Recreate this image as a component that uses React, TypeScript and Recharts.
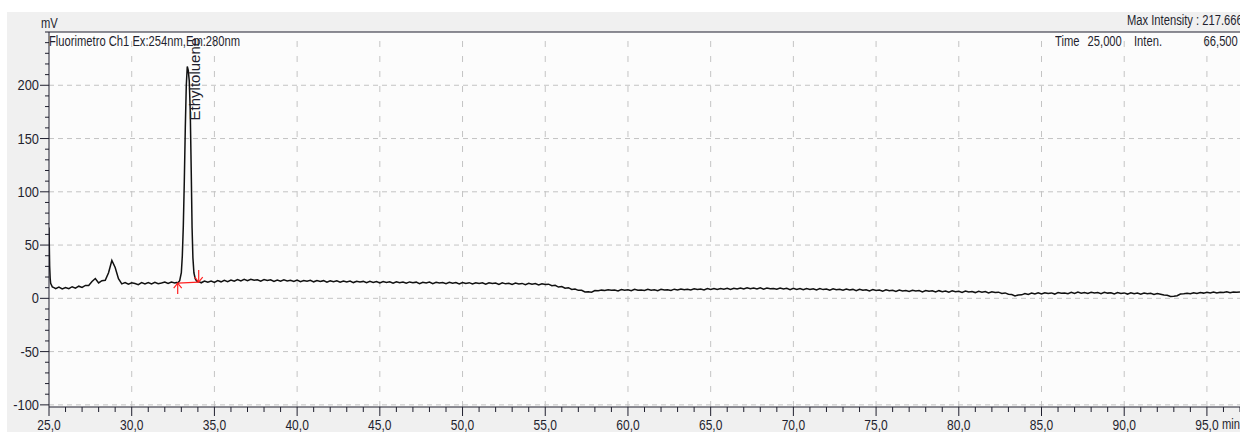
import React from 'react';
import { LineChart, Line, XAxis, YAxis, CartesianGrid, ReferenceLine, ReferenceDot } from 'recharts';

const FONT = "'Liberation Sans', Arial, sans-serif";
const INK = '#1f1f2e';
const GRID = '#c4c4c4';

// detector trace, sampled every 0.2 min from 25.0 min (mV)
const SAMPLE_START = 25.0;
const SAMPLE_STEP = 0.2;
const sampledMv = [
  66.5, 10.5, 9.1, 10.6, 8.8, 10.2, 9.0, 10.9, 9.6, 11.4,
  10.2, 12.1, 12.0, 15.8, 18.6, 14.5, 16.6, 17.0, 24.0, 35.5,
  29.0, 18.5, 13.6, 14.8, 13.2, 14.6, 13.9, 12.9, 14.7, 13.5,
  14.9, 13.6, 15.0, 13.8, 14.4, 15.3, 13.9, 15.2, 14.4, 14.6,
  40.0, 150.0, 210.0, 110.0, 20.0, 15.6, 14.6, 16.3, 15.1, 16.2,
  14.9, 16.6, 15.5, 16.9, 15.7, 17.2, 16.0, 17.6, 16.4, 17.8,
  16.6, 17.9, 16.9, 17.5, 16.2, 17.6, 16.7, 17.4, 15.9, 17.2,
  16.0, 17.3, 16.3, 16.9, 15.8, 17.1, 15.7, 16.8, 16.1, 16.9,
  15.5, 16.7, 15.9, 16.6, 15.2, 16.5, 15.6, 16.4, 15.1, 16.3,
  15.4, 16.2, 14.8, 16.0, 15.3, 15.9, 14.6, 15.9, 15.0, 15.8,
  14.5, 15.7, 14.9, 15.5, 14.3, 15.6, 14.7, 15.3, 14.1, 15.4,
  14.6, 15.2, 13.8, 15.1, 14.5, 15.2, 13.7, 15.0, 14.3, 14.8,
  13.7, 15.0, 14.1, 14.8, 13.5, 14.9, 14.0, 14.7, 13.4, 14.6,
  13.9, 14.5, 13.2, 14.6, 13.9, 14.4, 13.1, 14.5, 13.6, 14.2,
  13.0, 14.3, 13.5, 14.0, 12.8, 14.1, 13.2, 13.8, 12.6, 13.7,
  12.9, 13.3, 11.8, 12.2, 10.6, 11.1, 9.5, 10.0, 8.4, 8.8,
  7.5, 7.6, 6.0, 6.2, 5.8, 7.3, 7.1, 7.7, 7.3, 8.0,
  7.5, 7.9, 7.0, 8.3, 7.6, 8.0, 7.1, 8.4, 7.5, 7.9,
  7.3, 8.4, 7.6, 8.1, 7.2, 8.5, 7.8, 8.0, 7.4, 8.6,
  7.9, 8.8, 8.0, 8.6, 7.8, 9.0, 8.2, 8.7, 7.9, 9.1,
  8.4, 9.3, 8.3, 9.2, 8.6, 9.5, 8.4, 9.4, 8.8, 9.6,
  8.7, 9.9, 9.0, 9.7, 8.8, 9.8, 8.6, 9.6, 9.0, 9.3,
  8.5, 9.6, 8.8, 9.4, 8.2, 9.5, 8.4, 9.2, 8.0, 9.1,
  8.3, 9.0, 7.9, 9.1, 8.2, 8.7, 7.6, 8.9, 8.0, 8.5,
  7.6, 8.7, 7.9, 8.4, 7.2, 8.5, 7.6, 8.1, 7.0, 8.2,
  7.3, 7.9, 6.8, 8.0, 7.2, 7.6, 6.5, 7.8, 6.9, 7.4,
  6.4, 7.6, 6.8, 7.3, 6.1, 7.4, 6.6, 7.1, 5.9, 7.2,
  6.3, 6.9, 5.8, 7.0, 6.2, 6.6, 5.5, 6.8, 5.9, 6.4,
  5.4, 6.6, 5.8, 6.3, 5.1, 6.2, 5.5, 5.8, 4.6, 5.1,
  3.8, 3.5, 2.3, 3.2, 3.3, 4.6, 3.7, 5.0, 4.0, 5.2,
  4.1, 5.3, 4.5, 5.1, 4.0, 5.4, 4.7, 5.0, 4.3, 5.6,
  4.6, 5.8, 4.8, 5.5, 4.5, 5.7, 5.0, 5.4, 4.4, 5.6,
  4.9, 5.3, 4.2, 5.4, 4.6, 5.1, 4.0, 5.3, 4.4, 4.9,
  3.9, 5.0, 4.3, 4.7, 3.7, 4.6, 3.9, 3.1, 2.9, 1.8,
  1.9, 2.5, 4.1, 4.3, 4.7, 4.4, 5.3, 4.6, 5.4, 4.9,
  5.6, 5.1, 6.0, 5.0, 5.8, 5.5, 6.2, 5.2, 5.9, 5.7,
  6.0,
];

// finer sampling where the signal moves fast: [min, mV]
const injectionSpike: [number, number][] = [
  [25.0, 66.5], [25.02, 48], [25.04, 30], [25.07, 19], [25.1, 14], [25.2, 10.8], [25.3, 10.0],
];
const ethylPeak: [number, number][] = [
  [32.7, 14.9], [32.8, 14.6], [32.9, 16.5], [33.0, 24], [33.06, 40], [33.12, 68],
  [33.18, 110], [33.24, 160], [33.3, 200], [33.36, 217.666], [33.42, 214], [33.48, 204],
  [33.54, 175], [33.6, 118], [33.65, 66], [33.7, 38], [33.76, 24], [33.84, 18.5],
  [33.92, 16.3], [34.0, 15.6], [34.1, 15.4],
];
const detailWindows: [number, number][] = [[25.0, 25.35], [32.65, 34.15]];

const peakName = 'Ethyltoluene';
const peakTime = 33.36;
const peakHeight = 217.666;
const peakStart: [number, number] = [32.78, 14.3];
const peakEnd: [number, number] = [34.05, 15.3];

const xMajorTicks = [25, 30, 35, 40, 45, 50, 55, 60, 65, 70, 75, 80, 85, 90, 95];
const yMajorTicks = [-100, -50, 0, 50, 100, 150, 200];
const X_DOMAIN: [number, number] = [25, 97];
const Y_DOMAIN: [number, number] = [-102, 250];

const xTicks: number[] = [];
for (let m = X_DOMAIN[0]; m <= X_DOMAIN[1]; m += 1) xTicks.push(m);
const yTicks: number[] = [];
for (let v = -100; v <= 250; v += 10) yTicks.push(v);

const inDetail = (t: number) => detailWindows.some(([a, b]) => t >= a && t <= b);

const trace = [
  ...sampledMv
    .map((v, i) => ({ t: +(SAMPLE_START + i * SAMPLE_STEP).toFixed(2), mv: v }))
    .filter((p) => !inDetail(p.t)),
  ...injectionSpike.map(([t, mv]) => ({ t, mv })),
  ...ethylPeak.map(([t, mv]) => ({ t, mv })),
].sort((a, b) => a.t - b.t);

const fmtMin = (v: number) => v.toFixed(1).replace('.', ',');

const XTick = (props: any) => {
  const { x, y, payload } = props;
  const major = xMajorTicks.includes(payload.value);
  return (
    <g>
      <line x1={x} x2={x} y1={y} y2={y + (major ? 9 : 5)} stroke={INK} strokeWidth={1} />
      {major && (
        <text
          transform={`translate(${x} ${y + 23}) scale(0.86 1)`}
          textAnchor="middle"
          fontFamily={FONT}
          fontSize={14}
          fill={INK}
        >
          {fmtMin(payload.value)}
        </text>
      )}
    </g>
  );
};

const YTick = (props: any) => {
  const { x, y, payload } = props;
  const major = yMajorTicks.includes(payload.value);
  return (
    <g>
      <line x1={x - (major ? 9 : 4)} x2={x} y1={y} y2={y} stroke={INK} strokeWidth={1} />
      {major && (
        <text
          transform={`translate(${x - 10} ${y + 5}) scale(0.92 1)`}
          textAnchor="end"
          fontFamily={FONT}
          fontSize={14}
          fill={INK}
        >
          {payload.value}
        </text>
      )}
    </g>
  );
};

const UpArrow = (p: any) => (
  <g stroke="#ff2020" strokeWidth={1.2} fill="none">
    <line x1={p.cx} x2={p.cx} y1={p.cy} y2={p.cy + 11} />
    <polyline points={`${p.cx - 4},${p.cy + 5} ${p.cx},${p.cy} ${p.cx + 4},${p.cy + 5}`} />
  </g>
);

const DownArrow = (p: any) => (
  <g stroke="#ff2020" strokeWidth={1.2} fill="none">
    <line x1={p.cx} x2={p.cx} y1={p.cy} y2={p.cy - 12} />
    <polyline points={`${p.cx - 4},${p.cy - 5} ${p.cx},${p.cy} ${p.cx + 4},${p.cy - 5}`} />
  </g>
);

const PeakLabel = (p: any) => (
  <text
    x={p.cx + 13}
    y={p.cy + 54}
    transform={`rotate(-90 ${p.cx + 13} ${p.cy + 54})`}
    fontFamily={FONT}
    fontSize={15}
    fill={INK}
  >
    {peakName}
  </text>
);

// condensed header caption, anchored left or right
const Caption = ({ text, left, right, top, size = 14 }: { text: string; left?: number; right?: number; top: number; size?: number }) => (
  <div
    style={{
      position: 'absolute',
      left,
      right,
      top,
      fontSize: size,
      lineHeight: '16px',
      whiteSpace: 'nowrap',
      transform: 'scaleX(0.8)',
      transformOrigin: right !== undefined ? 'right center' : 'left center',
    }}
  >
    {text}
  </div>
);

export default function App() {
  return (
    <div
      style={{
        position: 'relative',
        width: 1240,
        height: 432,
        background: '#fff',
        overflow: 'hidden',
        fontFamily: FONT,
        color: INK,
      }}
    >
      <style>{'body{margin:0;overflow:hidden}'}</style>
      <div style={{ position: 'absolute', left: 7, top: 12, right: 0, bottom: 0, background: '#f0f0f0' }} />
      <div style={{ position: 'absolute', left: 0, top: 0 }}>
        <LineChart width={1240} height={432} data={trace} margin={{ top: 32, right: 0, bottom: 0, left: 0 }}>
          <CartesianGrid fill="#fcfcfc" horizontal={false} vertical={false} />
          {yMajorTicks.map((v) => (
            <ReferenceLine key={`h${v}`} y={v} stroke={GRID} strokeDasharray="5 4" />
          ))}
          {xMajorTicks.slice(1).map((v) => (
            <ReferenceLine key={`v${v}`} x={v} stroke={GRID} strokeDasharray="6 9" />
          ))}
          <ReferenceLine y={Y_DOMAIN[1]} stroke={INK} strokeWidth={1.2} />
          <XAxis
            dataKey="t"
            type="number"
            domain={X_DOMAIN}
            allowDataOverflow
            ticks={xTicks}
            interval={0}
            tickSize={0}
            tickMargin={0}
            tick={<XTick />}
            height={25}
            axisLine={{ stroke: INK }}
          />
          <YAxis
            type="number"
            domain={Y_DOMAIN}
            allowDataOverflow
            ticks={yTicks}
            interval={0}
            tickSize={0}
            tickMargin={0}
            tick={<YTick />}
            width={49}
            axisLine={{ stroke: INK }}
          />
          <Line
            dataKey="mv"
            type="linear"
            stroke="#111"
            strokeWidth={1.5}
            dot={false}
            isAnimationActive={false}
          />
          <ReferenceLine
            segment={[
              { x: peakStart[0], y: peakStart[1] },
              { x: peakEnd[0], y: peakEnd[1] },
            ]}
            stroke="#ff2020"
            strokeWidth={1.3}
          />
          <ReferenceDot x={peakStart[0]} y={peakStart[1]} r={0} shape={UpArrow} />
          <ReferenceDot x={peakEnd[0]} y={peakEnd[1]} r={0} shape={DownArrow} />
          <ReferenceDot x={peakTime} y={peakHeight} r={0} shape={PeakLabel} />
        </LineChart>
      </div>
      <Caption text="mV" left={41} top={15} size={14} />
      <Caption text="Fluorimetro Ch1 Ex:254nm,Em:280nm" left={49} top={33} />
      <Caption text="Max Intensity : 217.666" right={-3} top={12} />
      <Caption text="Time" left={1055} top={33} />
      <Caption text="25,000" right={118} top={33} />
      <Caption text="Inten." left={1134} top={33} />
      <Caption text="66,500" right={2} top={33} />
      <Caption text="min" left={1222} top={416} />
    </div>
  );
}
